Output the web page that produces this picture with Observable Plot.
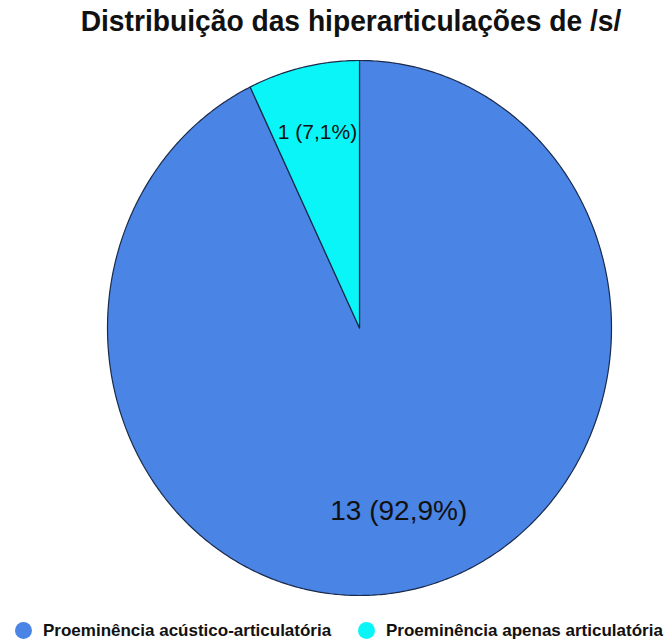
<!DOCTYPE html>
<html>
<head>
<meta charset="utf-8">
<script src="https://cdn.jsdelivr.net/npm/d3@7"></script>
<script src="https://cdn.jsdelivr.net/npm/@observablehq/plot@0.6"></script>
<style>
  html, body { margin: 0; padding: 0; background: #fff; }
  #wrap { position: relative; width: 672px; height: 641px; overflow: hidden; font-family: "Liberation Sans", Arial, sans-serif; }
  #title { position: absolute; left: 351px; top: 4px; white-space: nowrap; font-weight: bold; font-size: 30px; line-height: 34px; color: #111;
           transform: translateX(-50%) scaleX(0.94); transform-origin: center; }
  #chart { position: absolute; left: 0; top: 50px; }
  .leg { position: absolute; top: 621px; height: 19px; display: flex; align-items: center; white-space: nowrap; }
  .sw { width: 17px; height: 17px; border-radius: 50%; margin-right: 11px; flex: none; }
  .lt { font-weight: bold; font-size: 17px; color: #111; }
</style>
</head>
<body>
<div id="wrap">
  <div id="title"></div>
  <div id="chart"></div>
  <div id="legend"></div>
</div>
<script>
const titleText = "Distribuição das hiperarticulações de /s/";
const categories = ["Proeminência acústico-articulatória", "Proeminência apenas articulatória"];
const counts = [13, 1];
const percentLabels = ["92,9%", "7,1%"];
const colors = ["#4a84e4", "#0af5f8"];

document.getElementById("title").textContent = titleText;

// Slice geometry from d3.pie (clockwise from top; cyan slice ends at top)
const pie = d3.pie().sort(null).startAngle(0).endAngle(2 * Math.PI);
const arcs = pie(counts);
const slicePts = [];
arcs.forEach((a, i) => {
  slicePts.push({cat: categories[i], x: 0, y: 0});
  const n = Math.max(4, Math.ceil((a.endAngle - a.startAngle) / 0.01));
  for (let k = 0; k <= n; k++) {
    const t = a.startAngle + (a.endAngle - a.startAngle) * k / n;
    slicePts.push({cat: categories[i], x: Math.sin(t), y: Math.cos(t)});
  }
});
const labelR = [0.70, 0.75];
const labels = arcs.map((a, i) => {
  const m = (a.startAngle + a.endAngle) / 2;
  return {x: labelR[i] * Math.sin(m), y: labelR[i] * Math.cos(m), text: `${counts[i]} (${percentLabels[i]})`};
});

const plot = Plot.plot({
  width: 672,
  height: 560,
  margin: 0,
  style: {fontFamily: "'Liberation Sans', Arial, sans-serif", background: "transparent"},
  x: {domain: [-1, 1], range: [107, 611], axis: null},
  y: {domain: [-1, 1], range: [545, 10], axis: null},
  color: {domain: categories, range: colors},
  marks: [
    Plot.line(slicePts, {x: "x", y: "y", z: "cat", fill: "cat", stroke: "#1a2a4a", strokeWidth: 1.2, curve: "linear-closed", strokeLinejoin: "round"}),
    Plot.text(labels.filter((d, i) => i === 0), {x: "x", y: "y", text: "text", fontSize: 28, fill: "#111"}),
    Plot.text(labels.filter((d, i) => i === 1), {x: "x", y: "y", text: "text", fontSize: 21, fill: "#111"})
  ]
});
document.getElementById("chart").appendChild(plot);

const legendX = [15, 358];
const legend = document.getElementById("legend");
categories.forEach((c, i) => {
  const el = document.createElement("div");
  el.className = "leg";
  el.style.left = legendX[i] + "px";
  const sw = document.createElement("div");
  sw.className = "sw";
  sw.style.background = colors[i];
  const t = document.createElement("span");
  t.className = "lt";
  t.textContent = c;
  el.appendChild(sw); el.appendChild(t);
  legend.appendChild(el);
});
</script>
</body>
</html>
